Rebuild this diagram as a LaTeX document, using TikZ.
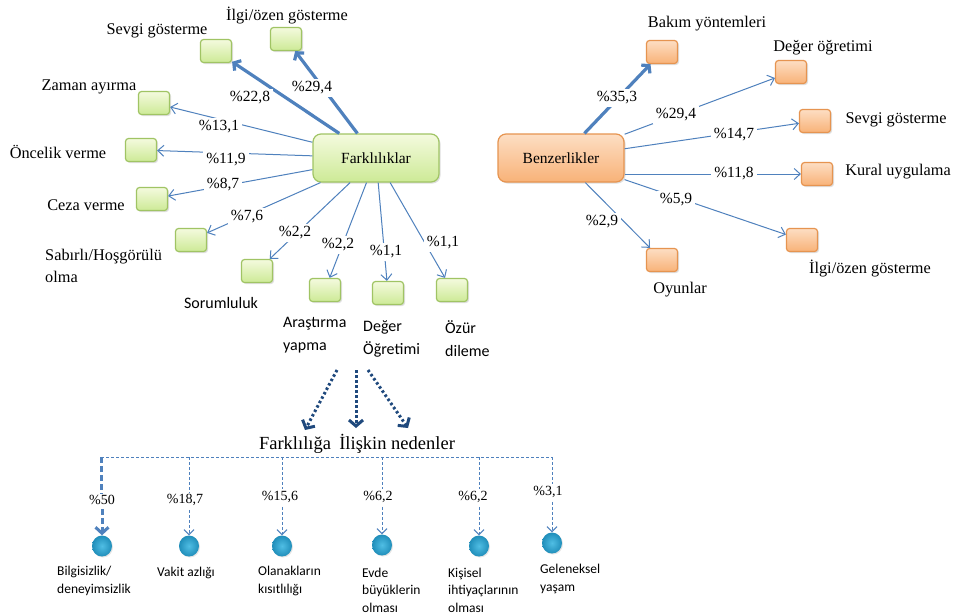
\documentclass[tikz,border=0pt]{standalone}
\usepackage{fontspec}
\setmainfont{Liberation Serif}
\newfontfamily\calibri{Carlito}
\usetikzlibrary{arrows.meta,shadows,shapes.geometric}
\definecolor{lineblue}{RGB}{79,129,189}
\definecolor{navy}{RGB}{31,73,125}
\definecolor{greentop}{RGB}{244,250,222}
\definecolor{greenbot}{RGB}{205,234,150}
\definecolor{greenline}{RGB}{160,196,100}
\definecolor{orangetop}{RGB}{253,222,195}
\definecolor{orangebot}{RGB}{248,178,120}
\definecolor{orangeline}{RGB}{230,148,80}
\definecolor{balllight}{RGB}{80,190,228}
\definecolor{balldark}{RGB}{32,142,186}

\begin{document}
\begin{tikzpicture}[x=1pt,y=-1pt,
    gbox/.style={draw=greenline,line width=1.2pt,rounded corners=3pt,top color=greentop,bottom color=greenbot,
      minimum width=31pt,minimum height=23pt,inner sep=0pt,
      drop shadow={opacity=.25,shadow xshift=1.5pt,shadow yshift=-1.5pt}},
    obox/.style={gbox,draw=orangeline,top color=orangetop,bottom color=orangebot},
    hub/.style={rounded corners=8pt,minimum width=126pt,minimum height=48pt,font=\fontsize{15.5}{18}\selectfont},
    lbl/.style={inner sep=0pt,align=left,font=\fontsize{16.3}{22}\selectfont},
    slbl/.style={inner sep=0pt,align=left,font=\calibri\fontsize{16}{23}\selectfont},
    tlbl/.style={inner sep=0pt,align=left,anchor=west,font=\calibri\fontsize{13.5}{17.5}\selectfont},
    pct/.style={fill=white,inner sep=3pt,font=\fontsize{15.5}{18}\selectfont},
    bpct/.style={inner sep=2pt,font=\fontsize{14}{16}\selectfont},
    ball/.style={ellipse,minimum width=20pt,minimum height=21pt,inner sep=0pt,inner color=balllight,outer color=balldark,
      drop shadow={opacity=.2,shadow xshift=1pt,shadow yshift=-1pt}},
    arr/.style={lineblue,line width=1pt,-{Straight Barb[length=6pt,width=11pt]}},
    fat/.style={lineblue,line width=3.2pt,-{Straight Barb[length=5pt,width=12pt]}},
    navyarr/.style={navy,line width=3pt,dash pattern=on 2.5pt off 2.5pt,-{Straight Barb[length=6pt,width=14pt]}},
    brk/.style={lineblue,line width=1pt,dash pattern=on 3pt off 2pt},
    brkfat/.style={lineblue,line width=3pt,dash pattern=on 6pt off 3pt},
    down/.style={brk,shorten <=2pt,-{Straight Barb[length=5pt,width=10pt]}},
    downfat/.style={brkfat,shorten <=2pt,-{Straight Barb[length=6pt,width=13pt]}}
  ]
  \fill[white] (0,0) rectangle (953,614);
  \useasboundingbox (0,0) rectangle (953,614);
  % Farkliliklar
  \draw
    (376,158) node[gbox,hub] (f) {Farklılıklar}
    (286,39) node[gbox] (f1) {}
    (216,51) node[gbox] (f2) {}
    (154,103) node[gbox] (f3) {}
    (141,150) node[gbox] (f4) {}
    (152,199) node[gbox] (f5) {}
    (191,240) node[gbox] (f6) {}
    (257,271) node[gbox] (f7) {}
    (325,290) node[gbox] (f8) {}
    (388,293) node[gbox] (f9) {}
    (452,290) node[gbox] (f10) {}
    (287,16) node[lbl] (fl1) {İlgi/özen gösterme}
    (157,31) node[lbl] (fl2) {Sevgi gösterme}
    (89,87) node[lbl] (fl3) {Zaman ayırma}
    (58,152) node[lbl] (fl4) {Öncelik verme}
    (86,205) node[lbl] (fl5) {Ceza verme}
    (45,266) node[lbl,anchor=west] (fl6) {Sabırlı/Hoşgörülü\\olma}
    (221,303) node[slbl] (fl7) {Sorumluluk}
    (283,335) node[slbl,anchor=west] (fl8) {Araştırma\\yapma}
    (363,339) node[slbl,anchor=west] (fl9) {Değer\\Öğretimi}
    (445,339) node[slbl,anchor=west] (fl10) {Özür\\dileme};
  \begin{scope}[arr]
    \draw[fat] (f) to (f1);
    \draw[fat] (f) to (f2);
    \draw (f) to (f3);
    \draw (f) to (f4);
    \draw (f) to (f5);
    \draw (f) to (f6);
    \draw (f) to (f7);
    \draw (f) to (f8);
    \draw (f) to (f9);
    \draw (f) to (f10);
  \end{scope}
  \draw
    (312,88) node[pct] (fp1) {\%29,4}
    (250,98) node[pct] (fp2) {\%22,8}
    (219,127) node[pct] (fp3) {\%13,1}
    (226,160) node[pct] (fp4) {\%11,9}
    (223,185) node[pct] (fp5) {\%8,7}
    (247,217) node[pct] (fp6) {\%7,6}
    (295,233) node[pct] (fp7) {\%2,2}
    (338,245) node[pct] (fp8) {\%2,2}
    (386,252) node[pct] (fp9) {\%1,1}
    (443,243) node[pct] (fp10) {\%1,1};
  % Benzerlikler
  \draw
    (561,158) node[obox,hub] (b) {Benzerlikler}
    (662,52) node[obox] (b1) {}
    (791,72) node[obox] (b2) {}
    (815,121) node[obox] (b3) {}
    (817,174) node[obox] (b4) {}
    (802,240) node[obox] (b5) {}
    (662,260) node[obox] (b6) {}
    (707,24) node[lbl] (bl1) {Bakım yöntemleri}
    (823,48) node[lbl] (bl2) {Değer öğretimi}
    (896,120) node[lbl] (bl3) {Sevgi gösterme}
    (898,172) node[lbl] (bl4) {Kural uygulama}
    (870,269) node[lbl] (bl5) {İlgi/özen gösterme}
    (680,290) node[lbl] (bl6) {Oyunlar};
  \begin{scope}[arr]
    \draw[fat] (b) to (b1);
    \draw (b) to (b2);
    \draw (b) to (b3);
    \draw (b.east |- b4) to (b4);
    \draw (b) to (b5);
    \draw (b) to (b6);
  \end{scope}
  \draw
    (617,98) node[pct] (bp1) {\%35,3}
    (676,115) node[pct] (bp2) {\%29,4}
    (734,135) node[pct] (bp3) {\%14,7}
    (734,174) node[pct] (bp4) {\%11,8}
    (676,200) node[pct] (bp5) {\%5,9}
    (602,222) node[pct] (bp6) {\%2,9};
  % nedenler
  \coordinate (s1) at (337,370);
  \coordinate (s2) at (356,370);
  \coordinate (s3) at (368,370);
  \coordinate (e1) at (305,430);
  \coordinate (e2) at (356,428);
  \coordinate (e3) at (408,428);
  \draw (357,444) node[font=\fontsize{18.5}{20}\selectfont] (t) {Farklılığa\hspace{.45em}İlişkin nedenler};
  \begin{scope}[navyarr]
    \draw (s1) to (e1);
    \draw (s2) to (e2);
    \draw (s3) to (e3);
  \end{scope}
  \draw
    (102,500) node[bpct] (r1) {\%50}
    (185,500) node[bpct] (r2) {\%18,7}
    (280,497) node[bpct] (r3) {\%15,6}
    (378,497) node[bpct] (r4) {\%6,2}
    (473,497) node[bpct] (r5) {\%6,2}
    (548,492) node[bpct] (r6) {\%3,1}
    (102,546) node[ball] (c1) {}
    (189,546) node[ball] (c2) {}
    (282,546) node[ball] (c3) {}
    (382,545) node[ball] (c4) {}
    (479,546) node[ball] (c5) {}
    (552,543) node[ball] (c6) {}
    (57,581) node[tlbl] (cl1) {Bilgisizlik/\\deneyimsizlik}
    (157,573) node[tlbl] (cl2) {Vakit azlığı}
    (258,581) node[tlbl] (cl3) {Olanakların\\kısıtlılığı}
    (362,590) node[tlbl] (cl4) {Evde\\büyüklerin\\olması}
    (448,590) node[tlbl] (cl5) {Kişisel\\ihtiyaçlarının\\olması}
    (540,579) node[tlbl] (cl6) {Geleneksel\\yaşam};
  \coordinate (k1) at (101,457);
  \coordinate (k2) at (189,457);
  \coordinate (k3) at (282,457);
  \coordinate (k4) at (382,457);
  \coordinate (k5) at (479,457);
  \coordinate (k6) at (552,457);
  \draw[brk] (k1) -- (k6);
  \draw[brkfat] (k1) -- (k1 |- r1.north);
  \draw[brk] (k2) -- (k2 |- r2.north);
  \draw[brk] (k3) -- (k3 |- r3.north);
  \draw[brk] (k4) -- (k4 |- r4.north);
  \draw[brk] (k5) -- (k5 |- r5.north);
  \draw[brk] (k6) -- (k6 |- r6.north);
  \draw[downfat] (c1 |- r1.south) -- (c1);
  \draw[down] (c2 |- r2.south) -- (c2);
  \draw[down] (c3 |- r3.south) -- (c3);
  \draw[down] (c4 |- r4.south) -- (c4);
  \draw[down] (c5 |- r5.south) -- (c5);
  \draw[down] (c6 |- r6.south) -- (c6);
\end{tikzpicture}
\end{document}
